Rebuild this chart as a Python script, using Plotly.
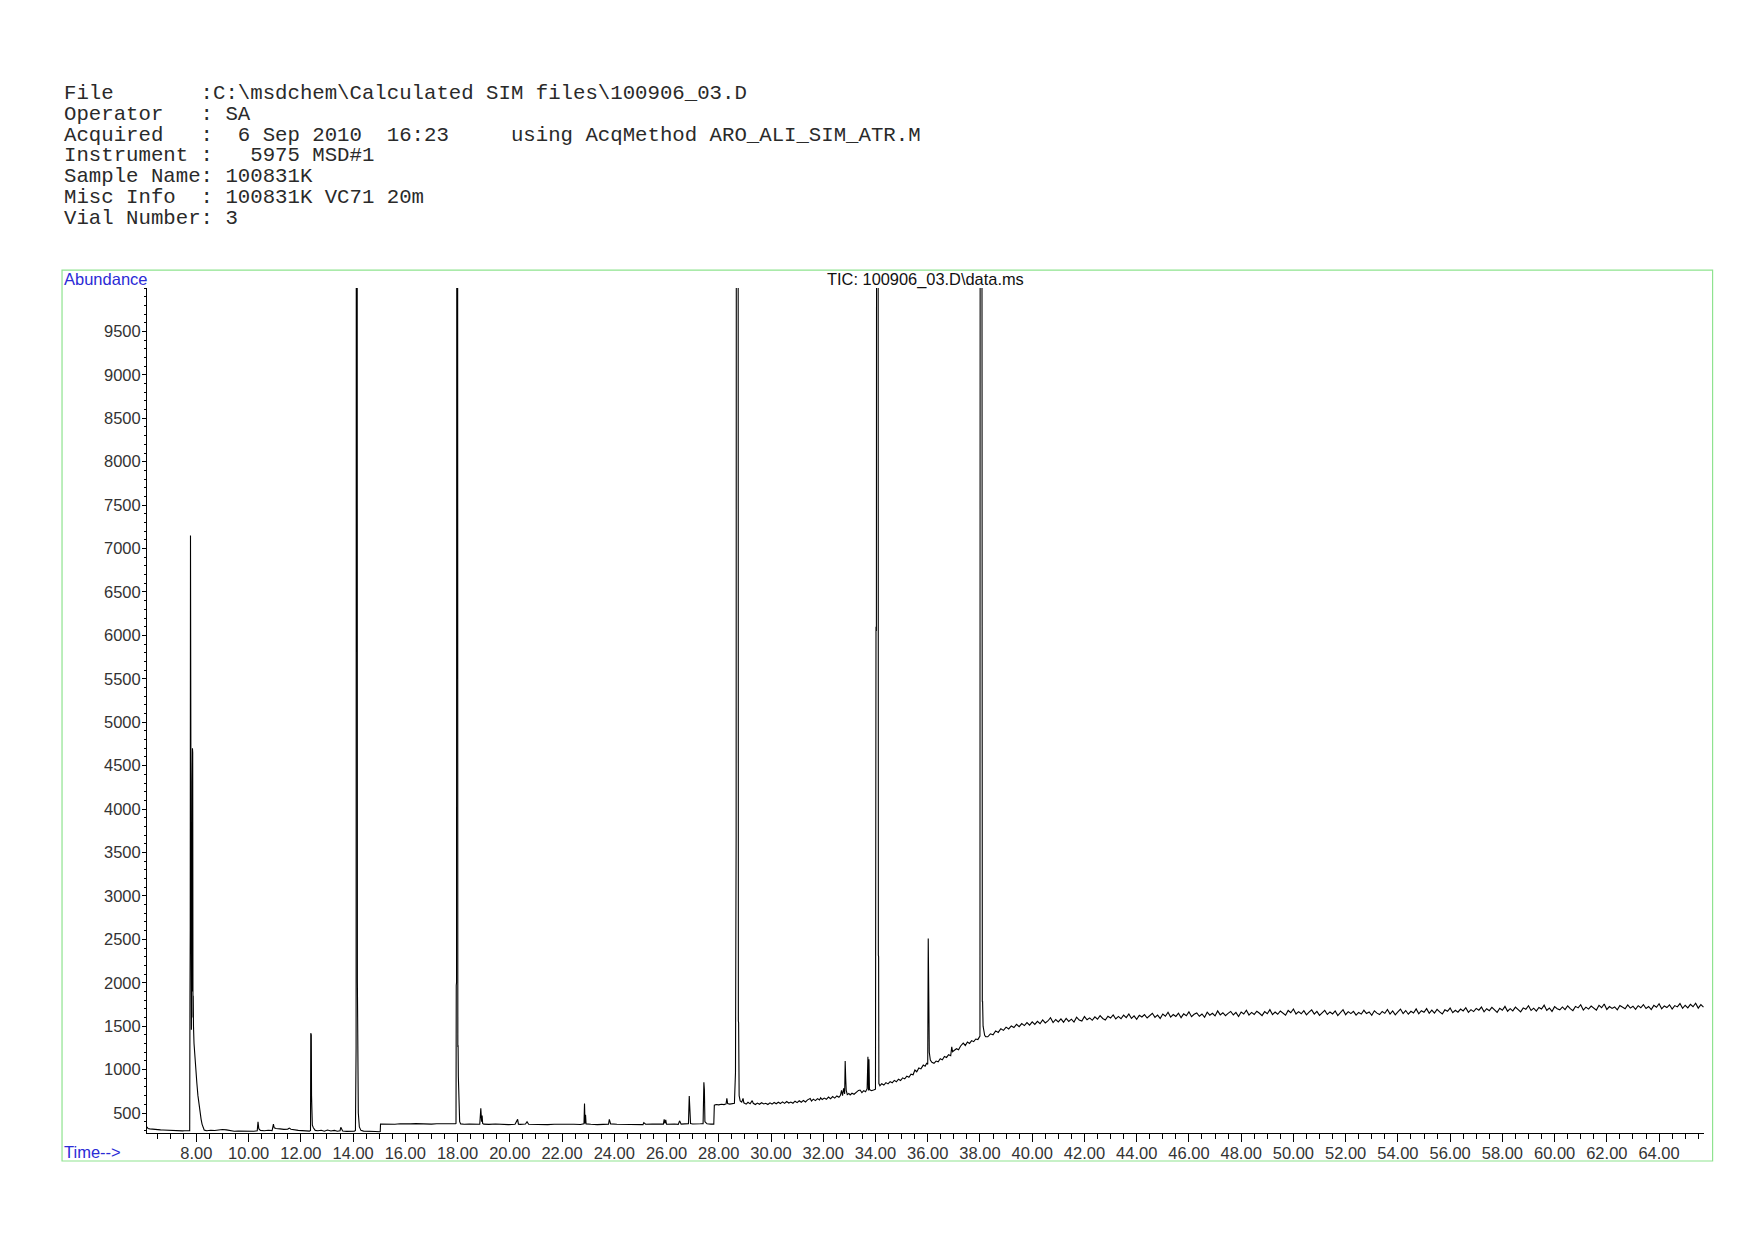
import plotly.graph_objects as go

# ---------------- header text ----------------
header_lines = [
    r"File       :C:\msdchem\Calculated SIM files\100906_03.D",
    r"Operator   : SA",
    r"Acquired   :  6 Sep 2010  16:23     using AcqMethod ARO_ALI_SIM_ATR.M",
    r"Instrument :   5975 MSD#1",
    r"Sample Name: 100831K",
    r"Misc Info  : 100831K VC71 20m",
    r"Vial Number: 3",
]
chart_title = r"TIC: 100906_03.D\data.ms"
y_label = "Abundance"
x_label = "Time-->"

# ---------------- axis ticks ----------------
y_tick_values = [500, 1000, 1500, 2000, 2500, 3000, 3500, 4000, 4500, 5000,
                 5500, 6000, 6500, 7000, 7500, 8000, 8500, 9000, 9500]
x_tick_values = [8, 10, 12, 14, 16, 18, 20, 22, 24, 26, 28, 30, 32, 34, 36,
                 38, 40, 42, 44, 46, 48, 50, 52, 54, 56, 58, 60, 62, 64]
x_tick_labels = ["%.2f" % v for v in x_tick_values]

# ---------------- TIC trace (time min, abundance) ----------------
seg_start = [(6.11, 340), (6.15, 322), (6.22, 318), (6.30, 314), (6.38, 312), (6.46, 309),
             (6.55, 310), (6.63, 306), (6.72, 305), (6.80, 303), (6.88, 304), (6.97, 300),
             (7.05, 301), (7.14, 298), (7.22, 299), (7.30, 296), (7.39, 297), (7.47, 295),
             (7.55, 296), (7.63, 293), (7.70, 294), (7.745, 296)]

seg_first_peaks = [(7.755, 1820), (7.765, 2600), (7.775, 7150), (7.785, 3400), (7.795, 1700),
                   (7.80, 2710), (7.81, 1460), (7.82, 2650), (7.83, 1900), (7.84, 4300),
                   (7.85, 4700), (7.86, 4650), (7.87, 1600), (7.88, 1850), (7.89, 1500),
                   (7.91, 1300), (7.94, 1150), (7.98, 980), (8.02, 840), (8.06, 700),
                   (8.10, 590), (8.14, 500), (8.18, 430), (8.22, 370), (8.26, 330),
                   (8.30, 305), (8.34, 300)]

seg_8_to_15 = [(8.40, 296), (8.55, 301), (8.70, 298), (8.85, 305), (9.00, 311), (9.15, 306),
               (9.30, 294), (9.45, 290), (9.60, 293), (9.75, 291), (9.90, 289), (10.05, 292),
               (10.20, 290), (10.33, 295), (10.36, 398), (10.39, 320), (10.45, 300),
               (10.60, 296), (10.75, 302), (10.90, 298), (10.95, 372), (10.98, 330),
               (11.05, 322), (11.20, 318), (11.35, 312), (11.50, 315), (11.56, 326),
               (11.62, 314), (11.75, 305), (11.90, 300), (12.05, 297), (12.20, 294),
               (12.33, 292), (12.37, 300), (12.38, 1420), (12.39, 1280), (12.40, 1400),
               (12.41, 700), (12.42, 420), (12.44, 360), (12.48, 330), (12.55, 300),
               (12.65, 296), (12.78, 302), (12.90, 290), (13.02, 305), (13.15, 293),
               (13.28, 300), (13.40, 291), (13.50, 296), (13.53, 335), (13.60, 292),
               (13.75, 289), (13.90, 287), (14.05, 290), (14.09, 300), (14.10, 1220),
               (14.115, 1250), (14.125, 14000), (14.155, 14000), (14.165, 2000),
               (14.18, 900), (14.20, 500), (14.24, 340), (14.30, 300), (14.40, 292),
               (14.55, 288), (14.70, 286), (14.85, 287), (15.00, 285), (15.04, 286)]

seg_15_to_28 = [(15.05, 372), (15.20, 370), (15.40, 374), (15.60, 371), (15.80, 376),
                (16.00, 373), (16.20, 375), (16.40, 378), (16.60, 374), (16.80, 377),
                (17.00, 372), (17.20, 376), (17.40, 379), (17.60, 374), (17.80, 377),
                (17.92, 376), (17.94, 380), (17.95, 1970), (17.96, 2000), (17.975, 15000),
                (18.00, 15000), (18.01, 1260), (18.02, 1280), (18.03, 920), (18.05, 500),
                (18.08, 400), (18.12, 375), (18.25, 370), (18.45, 372), (18.65, 368),
                (18.85, 371), (18.89, 555), (18.92, 400), (18.94, 470), (18.96, 380),
                (19.00, 372), (19.20, 369), (19.45, 374), (19.70, 370), (19.95, 366),
                (20.20, 371), (20.30, 427), (20.33, 372), (20.40, 369), (20.60, 373),
                (20.66, 400), (20.72, 371), (20.95, 368), (21.20, 372), (21.45, 366),
                (21.70, 370), (21.95, 373), (22.20, 369), (22.45, 371), (22.70, 368),
                (22.84, 375), (22.86, 610), (22.88, 380), (22.90, 480), (22.92, 375),
                (22.96, 372), (23.10, 370), (23.35, 366), (23.60, 371), (23.78, 372),
                (23.81, 427), (23.86, 375), (24.10, 370), (24.35, 368), (24.60, 372),
                (24.85, 369), (25.10, 367), (25.13, 390), (25.20, 371), (25.45, 373),
                (25.70, 368), (25.88, 372), (25.91, 427), (25.94, 380), (25.97, 420),
                (26.00, 371), (26.30, 374), (26.45, 369), (26.50, 410), (26.56, 372),
                (26.70, 375), (26.84, 378), (26.87, 695), (26.89, 520), (26.92, 380),
                (27.00, 374), (27.15, 371), (27.30, 376), (27.40, 378), (27.43, 853),
                (27.45, 765), (27.47, 400), (27.55, 376), (27.70, 372), (27.81, 372)]

seg_28_to_38 = [(27.83, 590), (27.90, 598), (28.00, 594), (28.10, 601), (28.20, 597),
                (28.28, 605), (28.31, 668), (28.34, 610), (28.42, 603), (28.52, 608),
                (28.60, 612), (28.64, 965), (28.655, 3650), (28.665, 3700), (28.675, 14000),
                (28.74, 14000), (28.75, 1560), (28.76, 1540), (28.78, 700), (28.82, 640),
                (28.88, 625), (28.93, 668), (28.96, 618), (29.05, 602), (29.12, 624),
                (29.20, 606), (29.28, 643), (29.32, 612), (29.40, 598), (29.48, 615),
                (29.56, 601), (29.64, 619), (29.72, 604), (29.80, 612), (29.88, 598),
                (29.96, 617), (30.04, 603), (30.12, 621), (30.20, 607), (30.28, 624),
                (30.36, 609), (30.44, 628), (30.52, 611), (30.60, 632), (30.68, 615),
                (30.76, 627), (30.84, 613), (30.92, 636), (31.00, 620), (31.08, 641),
                (31.16, 624), (31.24, 645), (31.32, 628), (31.40, 652), (31.50, 668),
                (31.55, 638), (31.62, 660), (31.70, 643), (31.78, 666), (31.86, 650),
                (31.90, 675), (31.96, 655), (32.04, 672), (32.12, 658), (32.20, 684),
                (32.28, 664), (32.36, 690), (32.44, 672), (32.52, 697), (32.60, 681),
                (32.66, 705), (32.70, 760), (32.74, 700), (32.78, 785), (32.82, 720),
                (32.84, 1100), (32.86, 900), (32.88, 760), (32.92, 712), (32.98, 725),
                (33.03, 708), (33.10, 728), (33.18, 716), (33.26, 742), (33.35, 760),
                (33.41, 765), (33.48, 735), (33.55, 758), (33.62, 745), (33.68, 780),
                (33.71, 1148), (33.73, 760), (33.75, 1120), (33.77, 770), (33.85, 757),
                (33.95, 768), (34.00, 775), (34.02, 6100), (34.035, 6050), (34.045, 14000),
                (34.10, 14000), (34.11, 2318), (34.12, 2300), (34.13, 840), (34.17, 815),
                (34.24, 838), (34.32, 822), (34.40, 850), (34.48, 836), (34.56, 862),
                (34.64, 848), (34.72, 876), (34.80, 860), (34.88, 889), (34.96, 874),
                (35.04, 905), (35.12, 893), (35.20, 925), (35.28, 912), (35.36, 948),
                (35.44, 940), (35.51, 995), (35.58, 975), (35.66, 1018), (35.74, 1008),
                (35.83, 1052), (35.90, 1040), (35.96, 1072), (36.00, 1062), (36.02, 2510),
                (36.035, 1985), (36.045, 1990), (36.06, 1200), (36.10, 1110), (36.16, 1085),
                (36.24, 1072), (36.32, 1098), (36.40, 1090), (36.48, 1125), (36.56, 1112),
                (36.64, 1152), (36.72, 1140), (36.80, 1172), (36.88, 1160), (36.92, 1263),
                (36.95, 1206), (37.02, 1218), (37.10, 1240), (37.18, 1228), (37.26, 1272),
                (37.36, 1306), (37.44, 1278), (37.52, 1318), (37.60, 1302), (37.68, 1334),
                (37.76, 1322), (37.84, 1352), (37.92, 1345), (37.97, 1371), (38.00, 1385),
                (38.01, 14000), (38.07, 14000), (38.08, 8900), (38.09, 1781), (38.10, 1790),
                (38.12, 1500), (38.18, 1395), (38.22, 1380)]

plateau_time = [
    38.3, 38.4, 38.5, 38.6, 38.7, 38.8, 38.9, 39.0, 39.1, 39.2,
    39.3, 39.4, 39.5, 39.6, 39.7, 39.8, 39.9, 40.0, 40.1, 40.2,
    40.3, 40.4, 40.5, 40.6, 40.7, 40.8, 40.9, 41.0, 41.1, 41.2,
    41.3, 41.4, 41.5, 41.6, 41.7, 41.8, 41.9, 42.0, 42.1, 42.2,
    42.3, 42.4, 42.5, 42.6, 42.7, 42.8, 42.9, 43.0, 43.1, 43.2,
    43.3, 43.4, 43.5, 43.6, 43.7, 43.8, 43.9, 44.0, 44.1, 44.2,
    44.3, 44.4, 44.5, 44.6, 44.7, 44.8, 44.9, 45.0, 45.1, 45.2,
    45.3, 45.4, 45.5, 45.6, 45.7, 45.8, 45.9, 46.0, 46.1, 46.2,
    46.3, 46.4, 46.5, 46.6, 46.7, 46.8, 46.9, 47.0, 47.1, 47.2,
    47.3, 47.4, 47.5, 47.6, 47.7, 47.8, 47.9, 48.0, 48.1, 48.2,
    48.3, 48.4, 48.5, 48.6, 48.7, 48.8, 48.9, 49.0, 49.1, 49.2,
    49.3, 49.4, 49.5, 49.6, 49.7, 49.8, 49.9, 50.0, 50.1, 50.2,
    50.3, 50.4, 50.5, 50.6, 50.7, 50.8, 50.9, 51.0, 51.1, 51.2,
    51.3, 51.4, 51.5, 51.6, 51.7, 51.8, 51.9, 52.0, 52.1, 52.2,
    52.3, 52.4, 52.5, 52.6, 52.7, 52.8, 52.9, 53.0, 53.1, 53.2,
    53.3, 53.4, 53.5, 53.6, 53.7, 53.8, 53.9, 54.0, 54.1, 54.2,
    54.3, 54.4, 54.5, 54.6, 54.7, 54.8, 54.9, 55.0, 55.1, 55.2,
    55.3, 55.4, 55.5, 55.6, 55.7, 55.8, 55.9, 56.0, 56.1, 56.2,
    56.3, 56.4, 56.5, 56.6, 56.7, 56.8, 56.9, 57.0, 57.1, 57.2,
    57.3, 57.4, 57.5, 57.6, 57.7, 57.8, 57.9, 58.0, 58.1, 58.2,
    58.3, 58.4, 58.5, 58.6, 58.7, 58.8, 58.9, 59.0, 59.1, 59.2,
    59.3, 59.4, 59.5, 59.6, 59.7, 59.8, 59.9, 60.0, 60.1, 60.2,
    60.3, 60.4, 60.5, 60.6, 60.7, 60.8, 60.9, 61.0, 61.1, 61.2,
    61.3, 61.4, 61.5, 61.6, 61.7, 61.8, 61.9, 62.0, 62.1, 62.2,
    62.3, 62.4, 62.5, 62.6, 62.7, 62.8, 62.9, 63.0, 63.1, 63.2,
    63.3, 63.4, 63.5, 63.6, 63.7, 63.8, 63.9, 64.0, 64.1, 64.2,
    64.3, 64.4, 64.5, 64.6, 64.7, 64.8, 64.9, 65.0, 65.1, 65.2,
    65.3, 65.4, 65.5, 65.6, 65.7]

plateau_abundance = [
    1378, 1412, 1401, 1446, 1428, 1470, 1452, 1489, 1468, 1502,
    1484, 1521, 1495, 1530, 1507, 1541, 1512, 1549, 1520, 1556,
    1528, 1572, 1537, 1560, 1598, 1541, 1577, 1550, 1585, 1546,
    1590, 1555, 1581, 1548, 1603, 1570, 1559, 1611, 1574, 1596,
    1568, 1607, 1580, 1622, 1589, 1571, 1615, 1594, 1630, 1583,
    1612, 1586, 1627, 1598, 1641, 1590, 1618, 1580, 1625, 1606,
    1633, 1594, 1620, 1649, 1602, 1628, 1589, 1640, 1615, 1660,
    1605, 1634, 1612, 1650, 1598, 1642, 1620, 1665, 1609, 1637,
    1652, 1614, 1640, 1603, 1661, 1627, 1648, 1618, 1676, 1630,
    1655, 1621, 1647, 1670, 1629, 1658, 1612, 1663, 1641, 1684,
    1628, 1659, 1636, 1672, 1649, 1621, 1668, 1644, 1690, 1633,
    1662, 1637, 1675, 1650, 1626, 1681, 1655, 1698, 1640, 1667,
    1643, 1679, 1630, 1661, 1688, 1639, 1670, 1624, 1659, 1682,
    1635, 1664, 1641, 1676, 1622, 1655, 1690, 1632, 1667, 1645,
    1671, 1628, 1658, 1639, 1683, 1646, 1663, 1625, 1677, 1650,
    1634, 1669, 1648, 1692, 1640, 1675, 1631, 1664, 1697, 1645,
    1680, 1638, 1671, 1652, 1699, 1643, 1678, 1660, 1702, 1649,
    1685, 1651, 1693, 1664, 1640, 1688, 1672, 1709, 1655, 1683,
    1661, 1697, 1676, 1712, 1659, 1690, 1668, 1705, 1684, 1720,
    1666, 1701, 1679, 1716, 1688, 1659, 1707, 1684, 1728, 1672,
    1702, 1676, 1719, 1690, 1665, 1711, 1694, 1735, 1681, 1707,
    1673, 1716, 1698, 1742, 1682, 1709, 1670, 1725, 1701, 1688,
    1721, 1690, 1735, 1702, 1679, 1728, 1711, 1747, 1686, 1719,
    1697, 1732, 1708, 1685, 1740, 1712, 1756, 1693, 1726, 1704,
    1721, 1689, 1738, 1715, 1700, 1744, 1708, 1730, 1694, 1736,
    1712, 1749, 1703, 1727, 1691, 1740, 1718, 1758, 1700, 1733,
    1715, 1746, 1698, 1737, 1722, 1760, 1705, 1741, 1711, 1752,
    1724, 1765, 1708, 1748, 1719]

segments = [seg_start, seg_first_peaks, seg_8_to_15, seg_15_to_28, seg_28_to_38]
time_min = [p[0] for s in segments for p in s] + plateau_time
abundance = [p[1] for s in segments for p in s] + plateau_abundance

# ---------------- layout geometry (page pixels; html body has an 8px margin) ----------------
W, H = 1754, 1240
OFF = 8
PLOT_L, PLOT_R, PLOT_T, PLOT_B = 146.5, 1704, 287.5, 1133
ML = PLOT_L - OFF
MT = PLOT_T - OFF
MR = W - (PLOT_R - OFF)
MB = H - (PLOT_B - OFF)
PW = W - ML - MR
PH = H - MT - MB


def px(x):
    return (x - OFF - ML) / PW


def py(y):
    return (H - MB - (y - OFF)) / PH


BLUE = "#2b2bd6"
SANS = "Liberation Sans, Arial, sans-serif"
MONO = "Liberation Mono, Courier New, monospace"

fig = go.Figure()
fig.add_trace(go.Scatter(x=time_min, y=abundance, mode="lines",
                         line=dict(color="black", width=1.1), hoverinfo="skip",
                         showlegend=False))

annotations = []
for i, line in enumerate(header_lines):
    annotations.append(dict(
        text=line.replace(" ", "\u00a0"), xref="paper", yref="paper",
        x=px(61), y=py(92.8 + i * 20.87), xanchor="left", yanchor="middle",
        showarrow=False, font=dict(family=MONO, size=20.7, color="#2a2a2a")))

annotations.append(dict(text=y_label, xref="paper", yref="paper", x=px(61), y=py(278.5),
                        xanchor="left", yanchor="middle", showarrow=False,
                        font=dict(family=SANS, size=16.5, color=BLUE)))
annotations.append(dict(text=x_label, xref="paper", yref="paper", x=px(61), y=py(1152),
                        xanchor="left", yanchor="middle", showarrow=False,
                        font=dict(family=SANS, size=16.5, color=BLUE)))
annotations.append(dict(text=chart_title, xref="paper", yref="paper", x=px(925), y=py(278.5),
                        xanchor="center", yanchor="middle", showarrow=False,
                        font=dict(family=SANS, size=16.4, color="#111111")))

fig.update_layout(
    width=W, height=H, autosize=False,
    margin=dict(l=ML, r=MR, t=MT, b=MB, pad=0),
    paper_bgcolor="white", plot_bgcolor="white",
    annotations=annotations,
    shapes=[dict(type="rect", xref="paper", yref="paper",
                 x0=px(61.5), x1=px(1712.6), y0=py(1161), y1=py(269.6),
                 line=dict(color="#8fe38f", width=1.2), fillcolor="rgba(0,0,0,0)",
                 layer="above")],
    xaxis=dict(range=[6.11, 65.72], showline=True, linecolor="black", linewidth=1,
               mirror=False, showgrid=False, zeroline=False,
               tickmode="array", tickvals=x_tick_values, ticktext=x_tick_labels,
               ticks="outside", ticklen=8, tickwidth=1, tickcolor="black",
               ticklabelstandoff=-3,
               tickfont=dict(family=SANS, size=16.5, color="#333333"),
               minor=dict(tickmode="linear", tick0=0, dtick=0.5, ticks="outside",
                          ticklen=5, tickwidth=1, tickcolor="black", showgrid=False)),
    yaxis=dict(range=[270, 10000], showline=True, linecolor="black", linewidth=1,
               showgrid=False, zeroline=False,
               tickmode="array", tickvals=y_tick_values,
               ticks="outside", ticklen=4, tickwidth=1, tickcolor="black",
               ticklabelstandoff=-2,
               tickfont=dict(family=SANS, size=16.5, color="#333333"),
               minor=dict(tickmode="linear", tick0=0, dtick=100, ticks="outside",
                          ticklen=2, tickwidth=1, tickcolor="black", showgrid=False)),
)

fig.write_html("out.html")
